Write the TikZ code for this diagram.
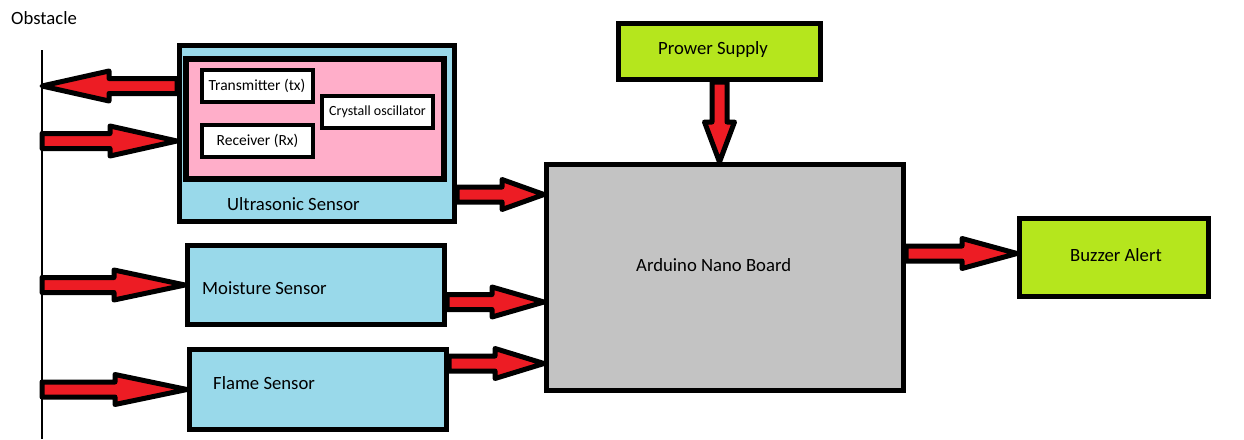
\documentclass[tikz,border=0pt]{standalone}
\usepackage{fontspec}
\setmainfont{Carlito}
\usetikzlibrary{calc}
\definecolor{sensorblue}{HTML}{99D9EA}
\definecolor{boardpink}{HTML}{FFAEC9}
\definecolor{supplygreen}{HTML}{B5E61D}
\definecolor{boardgrey}{HTML}{C3C3C3}
\definecolor{arrowred}{HTML}{ED1C24}

\begin{document}
\begin{tikzpicture}[x=1pt,y=-1pt,
	box/.style={draw=black, line width=5pt, inner sep=0pt},
	part/.style={draw=black, line width=4pt, fill=white, inner sep=0pt, minimum width=111pt, minimum height=32pt, font=\fontsize{15.5}{18}\selectfont},
	fat/.style={draw=black, fill=arrowred, line width=5pt, line join=round},
	lbl/.style={anchor=west, inner sep=0pt, font=\fontsize{18.7}{22}\selectfont}]
	\newcommand\FatArrow[3][55]{%
		\path (#2) coordinate (fa-s) (#3) coordinate (fa-e);
		\path ($(fa-e)!#1pt!(fa-s)$) coordinate (fa-h);
		\draw[fat] ($(fa-s)!7.5pt!90:(fa-e)$) -- ($(fa-h)!7.5pt!90:(fa-e)$) -- ($(fa-h)!15pt!90:(fa-e)$) -- (fa-e)
			-- ($(fa-h)!15pt!-90:(fa-e)$) -- ($(fa-h)!7.5pt!-90:(fa-e)$) -- ($(fa-s)!7.5pt!-90:(fa-e)$) -- cycle;}

	\path[use as bounding box, fill=white] (0,0) rectangle (1244,439);

	\node[lbl] (obstacle) at (11,18) {Obstacle};
	\coordinate (wall-top) at (42,50);
	\coordinate (wall-bot) at (42,439);
	\draw[line width=2pt] (wall-top) -- (wall-bot);

	\node[box, fill=sensorblue, minimum width=275pt, minimum height=176pt] (ultra) at (317,133.5) {};
	\node[box, line width=6pt, fill=boardpink, minimum width=258pt, minimum height=120pt] (pink) at (315,119) {};
	\node[part] (tx) at (257,86) {Transmitter (tx)};
	\node[part] (rx) at (257.5,141) {Receiver (Rx)};
	\node[part, font=\fontsize{14}{16}\selectfont] (xtal) at (377.5,112) {Crystall oscillator};
	\node[lbl] at (227,204) {Ultrasonic Sensor};

	\node[box, fill=sensorblue, minimum width=257pt, minimum height=79pt] (moist) at (316,285) {};
	\node[lbl] at (202,288) {Moisture Sensor};
	\node[box, fill=sensorblue, minimum width=257pt, minimum height=80pt] (flame) at (318,389.5) {};
	\node[lbl] at (213,383) {Flame Sensor};

	\node[box, fill=boardgrey, minimum width=357pt, minimum height=226pt] (ard) at (725,277.5) {};
	\node[lbl] at (636,265) {Arduino Nano Board};
	\node[box, fill=supplygreen, minimum width=202pt, minimum height=56pt] (power) at (719.5,51.5) {};
	\node[lbl] at (658,50) {Prower Supply};
	\node[box, fill=supplygreen, minimum width=189pt, minimum height=78pt] (buzz) at (1114,257.5) {};
	\node[lbl] at (1070,255) {Buzzer Alert};

	\coordinate (us-out) at ([yshift=-61pt]ultra.east);
	\coordinate (mo-out) at ([yshift=-17pt]moist.east);
	\coordinate (fl-out) at ([yshift=26pt]flame.east);
	\coordinate (bz-in) at ([yshift=4pt]buzz.west);

	\FatArrow[67]{ultra.west |- tx.west}{wall-top |- tx.west}
	\FatArrow[67]{wall-top |- rx.west}{ultra.west |- rx.west}
	\FatArrow[71]{wall-top |- moist.west}{moist.west}
	\FatArrow[72]{wall-top |- flame.west}{flame.west}
	\FatArrow[42]{us-out}{us-out -| ard.west}
	\FatArrow[52]{mo-out}{mo-out -| ard.west}
	\FatArrow[49]{fl-out}{fl-out -| ard.west}
	\FatArrow[40]{power.south}{power.south |- ard.north}
	\FatArrow[55]{bz-in -| ard.east}{bz-in}
\end{tikzpicture}
\end{document}
